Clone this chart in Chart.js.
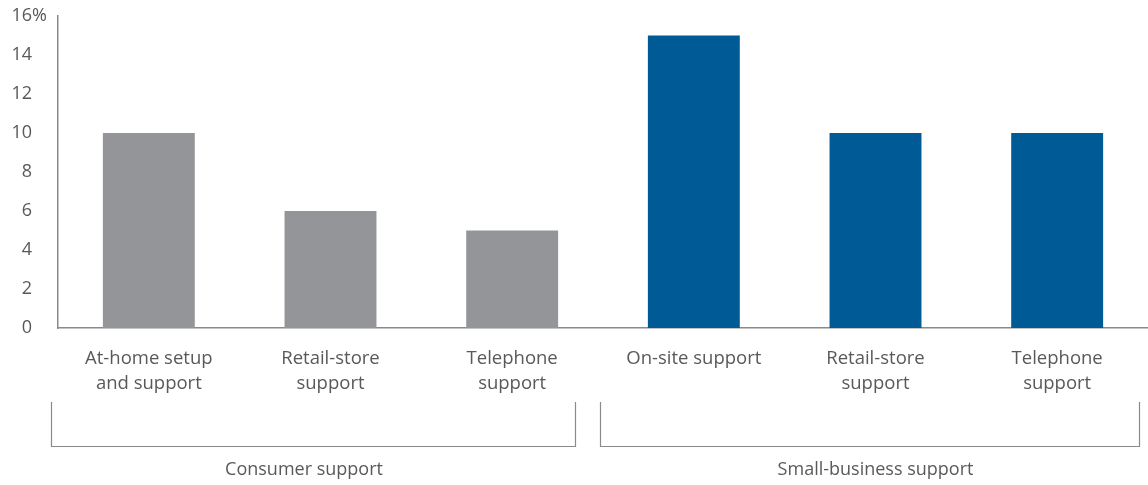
<!DOCTYPE html>
<html>
<head>
<meta charset="utf-8">
<script src="https://cdn.jsdelivr.net/npm/chart.js@4.4.1/dist/chart.umd.min.js"></script>
<style>
  html, body { margin: 0; padding: 0; background: #fff; }
  #wrap { width: 1148px; height: 485px; position: relative; }
</style>
</head>
<body>
<div id="wrap"><canvas id="chart"></canvas></div>
<script>
  "use strict";

  const categories = [
    ["At-home setup", "and support"],
    ["Retail-store", "support"],
    ["Telephone", "support"],
    ["On-site support"],
    ["Retail-store", "support"],
    ["Telephone", "support"]
  ];
  const values = [10, 6, 5, 15, 10, 10];
  const barColors = ["#939598", "#939598", "#939598", "#005a96", "#005a96", "#005a96"];
  const groups = [
    { label: "Consumer support", from: 0, to: 2 },
    { label: "Small-business support", from: 3, to: 5 }
  ];
  const yTicks = [0, 2, 4, 6, 8, 10, 12, 14, 16];

  const textColor = "#58595b";
  const lineColor = "#8a8a8a";
  const font = "\"Open Sans\", \"Noto Sans\", sans-serif";

  // bracket insets (left, right) and label shift, tuned by eye
  const bracketFit = [[-7, -28, -9], [-3, -9, 6]];

  const extras = {
    id: "extras",
    afterDraw(chart) {
      const ctx = chart.ctx;
      const x = chart.scales.x;
      const y = chart.scales.y;
      ctx.save();
      ctx.font = `18px ${font}`;
      ctx.fillStyle = textColor;
      ctx.textBaseline = "middle";
      yTicks.forEach((v) => {
        const py = y.getPixelForValue(v);
        ctx.textAlign = "right";
        ctx.fillText(String(v), 32, py);
        if (v === 16) {
          ctx.textAlign = "left";
          ctx.fillText("%", 32, py);
        }
      });
      const half = (x.getPixelForValue(1) - x.getPixelForValue(0)) / 2;
      ctx.strokeStyle = lineColor;
      ctx.lineWidth = 1.2;
      groups.forEach((g, i) => {
        const [l, r, shift] = bracketFit[i];
        const left = Math.round(x.getPixelForValue(g.from) - half + l);
        const right = Math.round(x.getPixelForValue(g.to) + half + r);
        ctx.beginPath();
        ctx.moveTo(left + 0.5, 402);
        ctx.lineTo(left + 0.5, 446.5);
        ctx.lineTo(right + 0.5, 446.5);
        ctx.lineTo(right + 0.5, 402);
        ctx.stroke();
        ctx.textAlign = "center";
        ctx.fillText(g.label, (left + right) / 2 + shift, 470);
      });
      ctx.restore();
    }
  };

  new Chart(document.getElementById("chart"), {
    type: "bar",
    data: {
      labels: categories,
      datasets: [{ data: values, backgroundColor: barColors, borderWidth: 0 }]
    },
    options: {
      responsive: true,
      maintainAspectRatio: false,
      animation: false,
      layout: { padding: { top: 16, right: 0, left: 0, bottom: 0 } },
      plugins: { legend: { display: false }, tooltip: { enabled: false } },
      datasets: { bar: { categoryPercentage: 1, barPercentage: 0.506 } },
      scales: {
        x: {
          grid: { display: false, drawTicks: false },
          border: { display: true, color: lineColor, width: 1.5 },
          ticks: { color: textColor, font: { family: font, size: 18.5, lineHeight: 1.36 }, padding: 18, maxRotation: 0, autoSkip: false },
          afterFit: (scale) => { scale.height = 157; }
        },
        y: {
          min: 0,
          max: 16,
          grid: { display: false, drawTicks: false },
          border: { display: true, color: lineColor, width: 1.5 },
          ticks: { display: false, stepSize: 2 },
          afterFit: (scale) => { scale.width = 58; }
        }
      }
    },
    plugins: [extras]
  });
</script>
</body>
</html>
